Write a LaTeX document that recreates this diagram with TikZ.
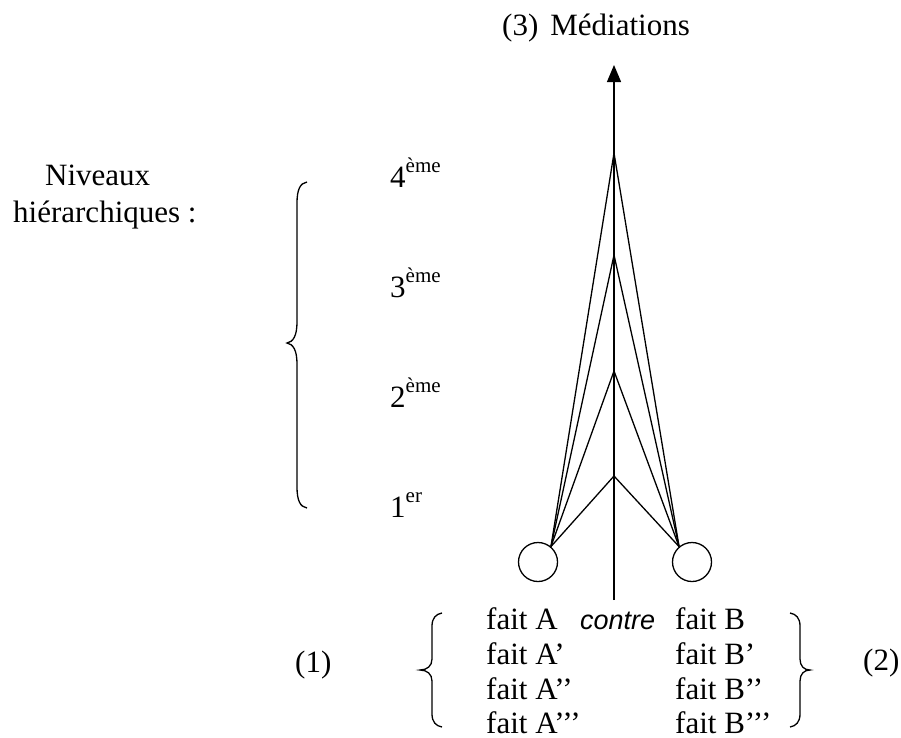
\documentclass[tikz,border=0pt]{standalone}
\usepackage{fontspec}
\setmainfont{Liberation Serif}
\newfontfamily\arialfont{Liberation Sans}
\usetikzlibrary{arrows.meta}
\newcommand{\supx}[1]{\raisebox{15pt}{\fontsize{21}{21}\selectfont #1}}
\begin{document}
\begin{tikzpicture}[x=1pt,y=-1pt,
  txt/.style={inner sep=0pt,anchor=base west,font=\fontsize{31}{36}\selectfont},
  ln/.style={line width=1.3pt},
  brace/.style={line width=1.3pt},
  faitbox/.style={circle,draw,line width=1.3pt,minimum size=39pt,inner sep=0pt}]
\useasboundingbox (0,0) rectangle (901,737);
% title
\node[txt] (title) at (502,35) {(3)\hspace{12pt}Médiations};
% axis
\coordinate (axbot) at (614,600);
\coordinate (axtop) at (614,65);
\draw[ln,-{Triangle[length=17pt,width=14pt]}] (axbot) -- (axtop);
% apexes
\coordinate (p4) at (614,153);
\coordinate (p3) at (614,255);
\coordinate (p2) at (614,371);
\coordinate (p1) at (614,476);
% circles
\node[faitbox] (cl) at (538,562) {};
\node[faitbox] (cr) at (692,562) {};
\foreach \p in {p1,p2,p3,p4}{
  \draw[ln,line join=miter] (cl.50) -- (\p) -- (cr.130);
}
% level labels
\node[txt] (l4) at (390,187) {4\supx{ème}};
\node[txt] (l3) at (390,297) {3\supx{ème}};
\node[txt] (l2) at (390,407) {2\supx{ème}};
\node[txt] (l1) at (390,517) {1\supx{er}};
% Niveaux hiérarchiques
\node[txt] (niv) at (45,185) {Niveaux};
\node[txt] (hier) at (13,222) {hiérarchiques :};
% big brace
\draw[brace] (307,182) .. controls (300,183) and (297,190) .. (297,203)
  -- (297,322) .. controls (297,336) and (293,342) .. (287,343)
  .. controls (293,344) and (297,350) .. (297,364)
  -- (297,487) .. controls (297,500) and (300,507) .. (307,508);
% bottom texts
\node[txt] (fa0) at (486,629) {fait A};
\node[txt] (fa1) at (486,664) {fait A’};
\node[txt] (fa2) at (486,699) {fait A’’};
\node[txt] (fa3) at (486,733) {fait A’’’};
\node[txt,font=\fontsize{27}{32}\arialfont\itshape] (contre) at (580,629) {contre};
\node[txt] (fb0) at (675,629) {fait B};
\node[txt] (fb1) at (675,664) {fait B’};
\node[txt] (fb2) at (675,699) {fait B’’};
\node[txt] (fb3) at (675,733) {fait B’’’};
% bottom braces
\draw[brace] (442,613) .. controls (436,614) and (432,618) .. (432,626)
  -- (432,659) .. controls (432,666) and (427,670) .. (420,670)
  .. controls (427,670) and (432,674) .. (432,681)
  -- (432,714) .. controls (432,722) and (436,726) .. (442,727);
\draw[brace] (790,613) .. controls (796,614) and (800,618) .. (800,626)
  -- (800,659) .. controls (800,666) and (804,670) .. (810,670)
  .. controls (804,670) and (800,674) .. (800,681)
  -- (800,714) .. controls (800,722) and (796,726) .. (790,727);
\node[txt] (n1) at (295,672) {(1)};
\node[txt] (n2) at (863,670) {(2)};
\end{tikzpicture}
\end{document}
